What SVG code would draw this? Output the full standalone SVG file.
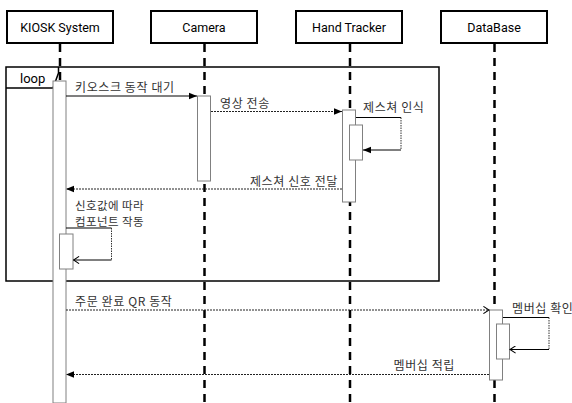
<svg xmlns="http://www.w3.org/2000/svg" width="572" height="403" viewBox="0 0 572 403">
  <style>
    .actor rect { fill: #fff; stroke: #000; stroke-width: 2; }
    .actor text { font-family: Roboto, "Liberation Sans", sans-serif; font-size: 12.5px; fill: #000; text-anchor: middle; }
    .lifeline { stroke: #000; stroke-width: 2.5; stroke-dasharray: 8 6; fill: none; }
    .act { fill: #fff; stroke: #808080; stroke-width: 1; }
    .msg { stroke: #000; stroke-width: 1; fill: none; }
    .ret { stroke: #222; stroke-width: 1; fill: none; stroke-dasharray: 2 1; }
    .selfv { stroke: #333; stroke-width: 1; fill: none; stroke-dasharray: 1.5 1; }
    .lbl { font-family: "Noto Sans CJK KR", "Noto Sans", sans-serif; font-size: 12px; letter-spacing: 0.6px; fill: #333; }
    .lbl.small { font-size: 11.5px; letter-spacing: 0.4px; }
    .frame { fill: none; stroke: #000; stroke-width: 1.5; }
    .frame-label { font-family: Roboto, "Liberation Sans", sans-serif; font-size: 13px; fill: #000; }
  </style>
  <defs>
    <marker id="filled" viewBox="0 0 10 10" refX="10" refY="5" markerWidth="8" markerHeight="8" markerUnits="userSpaceOnUse" orient="auto">
      <path d="M0,1 L10,5 L0,9 Z" fill="#000"/>
    </marker>
    <marker id="open" viewBox="0 0 10 10" refX="9" refY="5" markerWidth="8" markerHeight="8" markerUnits="userSpaceOnUse" orient="auto">
      <path d="M2,0.5 L9,5 L2,9.5" fill="none" stroke="#000" stroke-width="1.3"/>
    </marker>
  </defs>

  <!-- participants -->
  <g id="kiosk" class="actor">
    <rect x="7" y="11" width="106" height="32"/>
    <text x="60" y="31.5">KIOSK System</text>
  </g>
  <g id="camera" class="actor">
    <rect x="151" y="11" width="106" height="32"/>
    <text x="204" y="31.5">Camera</text>
  </g>
  <g id="hand-tracker" class="actor">
    <rect x="296" y="11" width="106" height="32"/>
    <text x="349" y="31.5">Hand Tracker</text>
  </g>
  <g id="database" class="actor">
    <rect x="441" y="11" width="106" height="32"/>
    <text x="494" y="31.5">DataBase</text>
  </g>

  <!-- lifelines -->
  <g id="lifelines">
    <line class="lifeline" x1="60" y1="44" x2="60" y2="403"/>
    <line class="lifeline" x1="204.5" y1="44" x2="204.5" y2="403"/>
    <line class="lifeline" x1="350" y1="44" x2="350" y2="403"/>
    <line class="lifeline" x1="494.5" y1="44" x2="494.5" y2="403"/>
  </g>

  <!-- loop fragment -->
  <g id="loop">
    <rect class="frame" x="6" y="67" width="433" height="214"/>
    <path class="frame" d="M6,88 L53,88 L58.5,73 L58.5,67"/>
    <text class="frame-label" x="20" y="83">loop</text>
  </g>

  <!-- activations -->
  <g id="activations">
    <rect class="act" x="53" y="81" width="13" height="322"/>
    <rect class="act" x="197.5" y="96" width="13" height="85"/>
    <rect class="act" x="342.5" y="110" width="13" height="92"/>
    <rect class="act" x="349.5" y="125" width="13" height="35"/>
    <rect class="act" x="59.5" y="234" width="13.5" height="35"/>
    <rect class="act" x="489.5" y="310" width="13" height="70"/>
    <rect class="act" x="496.5" y="324" width="13" height="35"/>
  </g>

  <!-- messages -->
  <g id="connectors">
    <line class="msg" x1="66" y1="96" x2="197" y2="96" marker-end="url(#filled)"/>
    <line class="ret" x1="211" y1="111.5" x2="342" y2="111.5" marker-end="url(#filled)"/>
    <path class="msg" d="M356,117.5 L401,117.5"/>
    <path class="selfv" d="M401,117.5 L401,150"/>
    <path class="msg" d="M401,150 L363,150" marker-end="url(#filled)"/>
    <line class="ret" x1="342" y1="189" x2="66" y2="189" marker-end="url(#filled)"/>
    <path class="msg" d="M66,228 L111.5,228"/>
    <path class="selfv" d="M111.5,228 L111.5,260"/>
    <path class="msg" d="M111.5,260 L73.5,260" marker-end="url(#open)"/>
    <line class="ret" x1="66" y1="310" x2="489" y2="310" marker-end="url(#open)"/>
    <path class="msg" d="M503,317.5 L549,317.5"/>
    <path class="selfv" d="M549,317.5 L549,349.5"/>
    <path class="msg" d="M549,349.5 L510,349.5" marker-end="url(#open)"/>
    <line class="ret" x1="489" y1="374.5" x2="66" y2="374.5" marker-end="url(#filled)"/>
  </g>

  <!-- message labels -->
  <g id="labels">
    <text class="lbl" x="75" y="92">키오스크 동작 대기</text>
    <text class="lbl" x="220" y="108">영상 전송</text>
    <text class="lbl" x="363" y="112">제스쳐 인식</text>
    <text class="lbl" x="338" y="185.5" text-anchor="end">제스쳐 신호 전달</text>
    <text class="lbl small" x="75" y="209.5">신호값에 따라</text>
    <text class="lbl small" x="75" y="225.5">컴포넌트 작동</text>
    <text class="lbl" x="75" y="306">주문 완료 QR 동작</text>
    <text class="lbl" x="512" y="313">멤버십 확인</text>
    <text class="lbl" x="455" y="370" text-anchor="end">멤버십 적립</text>
  </g>
</svg>
